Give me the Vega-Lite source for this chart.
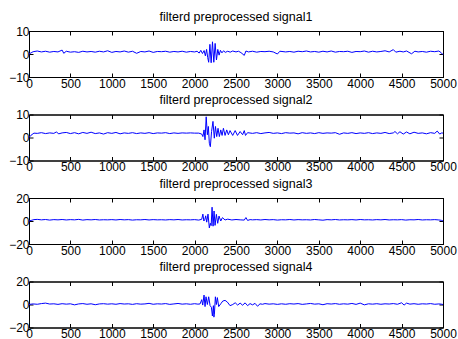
{
"$schema": "https://vega.github.io/schema/vega-lite/v6.json",
"padding": {"left": 8, "top": 10, "right": 2, "bottom": 2},
"background": "white",
"config": {
 "view": {"stroke": "black", "strokeWidth": 1},
 "font": "Liberation Sans",
 "axis": {"labelFont": "Liberation Sans", "labelFontSize": 12, "labelColor": "black", "tickColor": "black", "domainColor": "black", "grid": false, "tickSize": -4, "labelFlush": false, "labelOverlap": false, "title": null, "format": "d"},
 "axisX": {"labelPadding": 5},
 "axisY": {"labelPadding": 4},
 "title": {"font": "Liberation Sans", "fontSize": 12.5, "fontWeight": "normal", "color": "black", "offset": 2}
},
"datasets": {
 "s1": [{"x":0,"y":0},{"x":25,"y":0.5},{"x":50,"y":1.0},{"x":100,"y":1.3},{"x":150,"y":0.9},{"x":200,"y":1.2},{"x":250,"y":0.8},{"x":300,"y":1.1},{"x":350,"y":0.9},{"x":400,"y":1.7},{"x":420,"y":0.3},{"x":450,"y":1.2},{"x":500,"y":0.8},{"x":550,"y":1.0},{"x":600,"y":0.7},{"x":650,"y":1.2},{"x":700,"y":0.9},{"x":750,"y":1.1},{"x":800,"y":0.8},{"x":850,"y":1.2},{"x":900,"y":0.9},{"x":950,"y":1.4},{"x":1000,"y":0.7},{"x":1050,"y":1.1},{"x":1100,"y":0.9},{"x":1150,"y":1.3},{"x":1200,"y":0.8},{"x":1250,"y":1.2},{"x":1300,"y":0.3},{"x":1350,"y":1.1},{"x":1400,"y":0.9},{"x":1450,"y":1.3},{"x":1500,"y":0.7},{"x":1550,"y":1.1},{"x":1600,"y":1.0},{"x":1650,"y":1.2},{"x":1700,"y":0.8},{"x":1750,"y":1.1},{"x":1800,"y":0.9},{"x":1850,"y":1.2},{"x":1900,"y":0.8},{"x":1950,"y":1.1},{"x":2000,"y":0.9},{"x":2030,"y":1.2},{"x":2055,"y":0.4},{"x":2075,"y":1.6},{"x":2095,"y":0.2},{"x":2115,"y":1.5},{"x":2130,"y":-0.8},{"x":2145,"y":2.0},{"x":2158,"y":-1.5},{"x":2170,"y":-3.6},{"x":2185,"y":4.2},{"x":2200,"y":-3.8},{"x":2216,"y":5.3},{"x":2232,"y":-3.6},{"x":2248,"y":4.6},{"x":2264,"y":-2.6},{"x":2280,"y":2.0},{"x":2296,"y":-0.5},{"x":2312,"y":1.6},{"x":2330,"y":0.5},{"x":2350,"y":1.4},{"x":2370,"y":0.7},{"x":2400,"y":1.2},{"x":2430,"y":0.8},{"x":2460,"y":1.3},{"x":2500,"y":0.9},{"x":2530,"y":1.2},{"x":2560,"y":0.6},{"x":2600,"y":-0.6},{"x":2620,"y":1.3},{"x":2650,"y":0.9},{"x":2700,"y":1.2},{"x":2750,"y":0.8},{"x":2800,"y":1.1},{"x":2850,"y":1.0},{"x":2900,"y":1.2},{"x":2950,"y":0.9},{"x":3000,"y":0.0},{"x":3030,"y":1.2},{"x":3100,"y":0.9},{"x":3150,"y":1.1},{"x":3200,"y":0.8},{"x":3250,"y":1.2},{"x":3300,"y":1.0},{"x":3350,"y":1.3},{"x":3400,"y":0.9},{"x":3450,"y":1.1},{"x":3500,"y":0.8},{"x":3550,"y":1.2},{"x":3600,"y":0.9},{"x":3650,"y":1.3},{"x":3700,"y":0.8},{"x":3750,"y":1.1},{"x":3800,"y":1.0},{"x":3850,"y":1.2},{"x":3900,"y":0.7},{"x":3950,"y":1.1},{"x":4000,"y":1.0},{"x":4050,"y":1.3},{"x":4100,"y":0.8},{"x":4150,"y":1.2},{"x":4200,"y":0.9},{"x":4250,"y":1.1},{"x":4300,"y":1.4},{"x":4350,"y":0.9},{"x":4400,"y":1.9},{"x":4430,"y":0.8},{"x":4480,"y":1.2},{"x":4520,"y":0.9},{"x":4560,"y":1.3},{"x":4620,"y":0.1},{"x":4660,"y":1.2},{"x":4700,"y":0.9},{"x":4750,"y":1.1},{"x":4800,"y":0.8},{"x":4850,"y":1.2},{"x":4900,"y":1.0},{"x":4950,"y":1.3},{"x":4980,"y":0.5},{"x":5000,"y":-0.3}],
 "s2": [{"x":0,"y":0},{"x":25,"y":1.0},{"x":60,"y":1.9},{"x":100,"y":1.8},{"x":150,"y":2.1},{"x":200,"y":1.7},{"x":250,"y":2.0},{"x":300,"y":1.8},{"x":330,"y":2.4},{"x":360,"y":1.6},{"x":400,"y":2.0},{"x":450,"y":2.2},{"x":500,"y":1.7},{"x":550,"y":2.1},{"x":600,"y":1.6},{"x":650,"y":2.2},{"x":700,"y":1.8},{"x":750,"y":2.3},{"x":800,"y":1.7},{"x":850,"y":2.0},{"x":900,"y":1.5},{"x":950,"y":2.1},{"x":1000,"y":1.8},{"x":1050,"y":2.2},{"x":1100,"y":1.6},{"x":1150,"y":2.0},{"x":1200,"y":1.8},{"x":1250,"y":2.1},{"x":1300,"y":1.7},{"x":1350,"y":2.0},{"x":1400,"y":1.8},{"x":1450,"y":2.1},{"x":1500,"y":1.7},{"x":1550,"y":2.0},{"x":1600,"y":1.9},{"x":1650,"y":2.1},{"x":1700,"y":1.7},{"x":1750,"y":2.0},{"x":1800,"y":1.8},{"x":1850,"y":2.0},{"x":1900,"y":1.9},{"x":1950,"y":2.0},{"x":2000,"y":1.9},{"x":2050,"y":1.9},{"x":2086,"y":1.5},{"x":2100,"y":0.4},{"x":2114,"y":3.3},{"x":2126,"y":-1.0},{"x":2140,"y":9.0},{"x":2154,"y":1.2},{"x":2166,"y":4.8},{"x":2178,"y":-2.5},{"x":2190,"y":-4.0},{"x":2205,"y":2.6},{"x":2222,"y":7.0},{"x":2238,"y":-0.3},{"x":2252,"y":4.8},{"x":2267,"y":0.4},{"x":2283,"y":4.0},{"x":2299,"y":0.4},{"x":2316,"y":3.3},{"x":2332,"y":0.9},{"x":2348,"y":4.0},{"x":2368,"y":0.9},{"x":2388,"y":3.3},{"x":2408,"y":1.2},{"x":2428,"y":3.0},{"x":2460,"y":0.9},{"x":2490,"y":3.0},{"x":2518,"y":0.9},{"x":2550,"y":2.6},{"x":2580,"y":1.2},{"x":2600,"y":3.0},{"x":2615,"y":0.9},{"x":2640,"y":2.1},{"x":2700,"y":1.8},{"x":2750,"y":2.1},{"x":2800,"y":1.7},{"x":2850,"y":2.0},{"x":2900,"y":2.2},{"x":2950,"y":1.8},{"x":3000,"y":2.0},{"x":3050,"y":1.7},{"x":3100,"y":2.1},{"x":3150,"y":1.9},{"x":3200,"y":2.0},{"x":3250,"y":1.6},{"x":3300,"y":2.1},{"x":3350,"y":1.8},{"x":3400,"y":2.0},{"x":3450,"y":1.7},{"x":3500,"y":2.1},{"x":3550,"y":1.8},{"x":3600,"y":2.0},{"x":3650,"y":1.9},{"x":3700,"y":2.1},{"x":3750,"y":1.4},{"x":3800,"y":2.0},{"x":3850,"y":1.8},{"x":3900,"y":2.1},{"x":3950,"y":1.7},{"x":4000,"y":2.0},{"x":4050,"y":1.8},{"x":4100,"y":2.1},{"x":4150,"y":1.7},{"x":4200,"y":2.0},{"x":4250,"y":1.8},{"x":4300,"y":2.2},{"x":4350,"y":1.7},{"x":4400,"y":2.0},{"x":4420,"y":2.6},{"x":4450,"y":1.6},{"x":4480,"y":2.5},{"x":4520,"y":1.5},{"x":4560,"y":2.4},{"x":4600,"y":1.6},{"x":4650,"y":2.3},{"x":4700,"y":1.8},{"x":4750,"y":2.0},{"x":4800,"y":1.6},{"x":4850,"y":2.1},{"x":4900,"y":1.8},{"x":4930,"y":2.8},{"x":4960,"y":1.5},{"x":4985,"y":2.0},{"x":5000,"y":1.9}],
 "s3": [{"x":0,"y":0},{"x":25,"y":0.5},{"x":60,"y":1.2},{"x":100,"y":1.4},{"x":150,"y":1.0},{"x":200,"y":1.3},{"x":250,"y":0.8},{"x":300,"y":1.2},{"x":350,"y":1.0},{"x":400,"y":1.3},{"x":450,"y":0.9},{"x":500,"y":1.2},{"x":550,"y":1.0},{"x":600,"y":1.4},{"x":650,"y":0.8},{"x":700,"y":1.2},{"x":750,"y":1.0},{"x":800,"y":1.3},{"x":850,"y":0.9},{"x":900,"y":1.1},{"x":950,"y":1.0},{"x":1000,"y":1.2},{"x":1050,"y":0.9},{"x":1100,"y":1.3},{"x":1150,"y":1.0},{"x":1200,"y":1.2},{"x":1250,"y":0.8},{"x":1300,"y":1.1},{"x":1350,"y":1.0},{"x":1400,"y":1.3},{"x":1450,"y":0.9},{"x":1500,"y":1.2},{"x":1550,"y":1.0},{"x":1600,"y":1.1},{"x":1650,"y":0.9},{"x":1700,"y":1.2},{"x":1750,"y":1.0},{"x":1800,"y":1.3},{"x":1850,"y":0.9},{"x":1900,"y":1.1},{"x":1950,"y":1.0},{"x":2000,"y":1.2},{"x":2050,"y":0.8},{"x":2086,"y":1.5},{"x":2100,"y":6.0},{"x":2112,"y":0.0},{"x":2124,"y":1.5},{"x":2134,"y":4.5},{"x":2146,"y":-1.0},{"x":2162,"y":6.0},{"x":2178,"y":-6.0},{"x":2190,"y":-2.0},{"x":2200,"y":-4.0},{"x":2211,"y":12.0},{"x":2223,"y":-4.5},{"x":2235,"y":8.7},{"x":2247,"y":-3.8},{"x":2263,"y":5.8},{"x":2279,"y":-2.0},{"x":2295,"y":4.3},{"x":2316,"y":0.0},{"x":2336,"y":2.9},{"x":2368,"y":0.9},{"x":2400,"y":1.6},{"x":2450,"y":0.9},{"x":2500,"y":1.3},{"x":2550,"y":1.0},{"x":2600,"y":0.8},{"x":2620,"y":3.0},{"x":2640,"y":0.5},{"x":2670,"y":1.2},{"x":2700,"y":1.0},{"x":2750,"y":1.2},{"x":2800,"y":0.9},{"x":2850,"y":1.3},{"x":2900,"y":1.0},{"x":2950,"y":1.2},{"x":3000,"y":0.8},{"x":3050,"y":1.1},{"x":3100,"y":1.0},{"x":3150,"y":1.3},{"x":3200,"y":0.9},{"x":3250,"y":1.2},{"x":3300,"y":1.0},{"x":3350,"y":1.1},{"x":3400,"y":0.9},{"x":3450,"y":1.3},{"x":3500,"y":1.0},{"x":3550,"y":0.7},{"x":3600,"y":1.2},{"x":3650,"y":1.0},{"x":3700,"y":1.3},{"x":3750,"y":0.9},{"x":3800,"y":1.1},{"x":3850,"y":1.0},{"x":3900,"y":1.2},{"x":3950,"y":0.9},{"x":4000,"y":1.3},{"x":4050,"y":1.0},{"x":4100,"y":1.1},{"x":4150,"y":0.9},{"x":4200,"y":1.2},{"x":4250,"y":1.0},{"x":4300,"y":1.3},{"x":4350,"y":0.9},{"x":4400,"y":1.1},{"x":4450,"y":1.0},{"x":4500,"y":1.2},{"x":4550,"y":0.8},{"x":4600,"y":1.1},{"x":4650,"y":1.0},{"x":4700,"y":1.3},{"x":4750,"y":0.9},{"x":4800,"y":1.1},{"x":4850,"y":1.0},{"x":4900,"y":1.2},{"x":4950,"y":0.9},{"x":4980,"y":0.6},{"x":5000,"y":0}],
 "s4": [{"x":0,"y":0},{"x":25,"y":0.3},{"x":50,"y":0.5},{"x":100,"y":0.2},{"x":150,"y":0.8},{"x":200,"y":1.2},{"x":250,"y":0.4},{"x":300,"y":0.6},{"x":350,"y":0.1},{"x":400,"y":0.7},{"x":450,"y":0.3},{"x":500,"y":0.6},{"x":550,"y":-0.3},{"x":600,"y":0.5},{"x":650,"y":0.8},{"x":700,"y":0.2},{"x":750,"y":0.6},{"x":800,"y":-0.2},{"x":850,"y":0.5},{"x":900,"y":0.7},{"x":950,"y":0.3},{"x":1000,"y":0.6},{"x":1050,"y":0.2},{"x":1100,"y":0.8},{"x":1150,"y":0.4},{"x":1200,"y":0.6},{"x":1250,"y":0.1},{"x":1300,"y":0.7},{"x":1350,"y":0.3},{"x":1400,"y":0.5},{"x":1450,"y":1.0},{"x":1500,"y":0.2},{"x":1550,"y":0.6},{"x":1600,"y":0.4},{"x":1650,"y":0.8},{"x":1700,"y":0.1},{"x":1750,"y":0.5},{"x":1800,"y":0.9},{"x":1850,"y":0.3},{"x":1900,"y":0.6},{"x":1950,"y":0.2},{"x":2000,"y":0.7},{"x":2040,"y":0.3},{"x":2066,"y":0.5},{"x":2086,"y":4.2},{"x":2098,"y":-0.5},{"x":2114,"y":8.2},{"x":2126,"y":-1.8},{"x":2138,"y":6.7},{"x":2154,"y":0.0},{"x":2170,"y":6.7},{"x":2187,"y":-1.0},{"x":2203,"y":-2.4},{"x":2215,"y":-10.0},{"x":2227,"y":-1.0},{"x":2233,"y":-11.0},{"x":2239,"y":-8.5},{"x":2251,"y":6.7},{"x":2263,"y":0.0},{"x":2275,"y":6.0},{"x":2291,"y":-1.8},{"x":2316,"y":0.6},{"x":2340,"y":3.0},{"x":2368,"y":3.6},{"x":2396,"y":2.1},{"x":2428,"y":-1.0},{"x":2461,"y":0.0},{"x":2490,"y":1.5},{"x":2520,"y":-0.5},{"x":2550,"y":1.2},{"x":2580,"y":-0.6},{"x":2610,"y":1.4},{"x":2640,"y":-1.0},{"x":2670,"y":0.8},{"x":2700,"y":-0.3},{"x":2730,"y":1.0},{"x":2760,"y":-1.5},{"x":2790,"y":0.6},{"x":2820,"y":0.2},{"x":2850,"y":0.8},{"x":2900,"y":0.3},{"x":2950,"y":0.6},{"x":3000,"y":0.1},{"x":3050,"y":0.6},{"x":3100,"y":0.2},{"x":3150,"y":0.7},{"x":3200,"y":0.4},{"x":3250,"y":0.8},{"x":3300,"y":0.1},{"x":3350,"y":0.5},{"x":3400,"y":0.9},{"x":3450,"y":0.3},{"x":3500,"y":0.6},{"x":3550,"y":-0.2},{"x":3600,"y":0.7},{"x":3650,"y":0.4},{"x":3700,"y":0.8},{"x":3750,"y":0.2},{"x":3800,"y":0.6},{"x":3850,"y":0.3},{"x":3900,"y":0.9},{"x":3950,"y":0.1},{"x":4000,"y":1.2},{"x":4050,"y":-0.3},{"x":4100,"y":0.6},{"x":4150,"y":0.3},{"x":4200,"y":0.7},{"x":4250,"y":0.2},{"x":4300,"y":0.6},{"x":4350,"y":0.4},{"x":4400,"y":0.8},{"x":4450,"y":0.2},{"x":4500,"y":1.5},{"x":4530,"y":-0.5},{"x":4560,"y":1.2},{"x":4600,"y":0.3},{"x":4650,"y":0.7},{"x":4700,"y":0.2},{"x":4750,"y":0.6},{"x":4800,"y":0.4},{"x":4850,"y":0.8},{"x":4900,"y":0.2},{"x":4950,"y":0.5},{"x":4980,"y":0.3},{"x":5000,"y":0}]
},
"vconcat": [
 {"title": "filterd preprocessed signal1", "width": 414, "height": 46, "data": {"name": "s1"},
  "layer": [
   {"mark": {"type": "line", "color": "#0000ff", "strokeWidth": 1},
    "encoding": {"x": {"field": "x", "type": "quantitative", "scale": {"domain": [0, 5000], "nice": false, "zero": false}, "axis": {"values": [0,500,1000,1500,2000,2500,3000,3500,4000,4500,5000]}},
                 "y": {"field": "y", "type": "quantitative", "scale": {"domain": [-10, 10], "nice": false}, "axis": {"values": [-10, 0, 10]}}}},
   {"mark": {"type": "line", "opacity": 0},
    "encoding": {"x": {"field": "x", "type": "quantitative", "axis": {"orient": "top", "labels": false, "values": [0,500,1000,1500,2000,2500,3000,3500,4000,4500,5000]}},
                 "y": {"field": "y", "type": "quantitative", "axis": {"orient": "right", "labels": false, "values": [-10, 0, 10]}}}}
  ],
  "resolve": {"axis": {"x": "independent", "y": "independent"}}},
 {"title": "filterd preprocessed signal2", "width": 414, "height": 46, "data": {"name": "s2"},
  "layer": [
   {"mark": {"type": "line", "color": "#0000ff", "strokeWidth": 1},
    "encoding": {"x": {"field": "x", "type": "quantitative", "scale": {"domain": [0, 5000], "nice": false, "zero": false}, "axis": {"values": [0,500,1000,1500,2000,2500,3000,3500,4000,4500,5000]}},
                 "y": {"field": "y", "type": "quantitative", "scale": {"domain": [-10, 10], "nice": false}, "axis": {"values": [-10, 0, 10]}}}},
   {"mark": {"type": "line", "opacity": 0},
    "encoding": {"x": {"field": "x", "type": "quantitative", "axis": {"orient": "top", "labels": false, "values": [0,500,1000,1500,2000,2500,3000,3500,4000,4500,5000]}},
                 "y": {"field": "y", "type": "quantitative", "axis": {"orient": "right", "labels": false, "values": [-10, 0, 10]}}}}
  ],
  "resolve": {"axis": {"x": "independent", "y": "independent"}}},
 {"title": "filterd preprocessed signal3", "width": 414, "height": 46, "data": {"name": "s3"},
  "layer": [
   {"mark": {"type": "line", "color": "#0000ff", "strokeWidth": 1},
    "encoding": {"x": {"field": "x", "type": "quantitative", "scale": {"domain": [0, 5000], "nice": false, "zero": false}, "axis": {"values": [0,500,1000,1500,2000,2500,3000,3500,4000,4500,5000]}},
                 "y": {"field": "y", "type": "quantitative", "scale": {"domain": [-20, 20], "nice": false}, "axis": {"values": [-20, 0, 20]}}}},
   {"mark": {"type": "line", "opacity": 0},
    "encoding": {"x": {"field": "x", "type": "quantitative", "axis": {"orient": "top", "labels": false, "values": [0,500,1000,1500,2000,2500,3000,3500,4000,4500,5000]}},
                 "y": {"field": "y", "type": "quantitative", "axis": {"orient": "right", "labels": false, "values": [-20, 0, 20]}}}}
  ],
  "resolve": {"axis": {"x": "independent", "y": "independent"}}},
 {"title": "filterd preprocessed signal4", "width": 414, "height": 46, "data": {"name": "s4"},
  "layer": [
   {"mark": {"type": "line", "color": "#0000ff", "strokeWidth": 1},
    "encoding": {"x": {"field": "x", "type": "quantitative", "scale": {"domain": [0, 5000], "nice": false, "zero": false}, "axis": {"values": [0,500,1000,1500,2000,2500,3000,3500,4000,4500,5000]}},
                 "y": {"field": "y", "type": "quantitative", "scale": {"domain": [-20, 20], "nice": false}, "axis": {"values": [-20, 0, 20]}}}},
   {"mark": {"type": "line", "opacity": 0},
    "encoding": {"x": {"field": "x", "type": "quantitative", "axis": {"orient": "top", "labels": false, "values": [0,500,1000,1500,2000,2500,3000,3500,4000,4500,5000]}},
                 "y": {"field": "y", "type": "quantitative", "axis": {"orient": "right", "labels": false, "values": [-20, 0, 20]}}}}
  ],
  "resolve": {"axis": {"x": "independent", "y": "independent"}}}
],
"spacing": 37.5,
"bounds": "flush"
}
